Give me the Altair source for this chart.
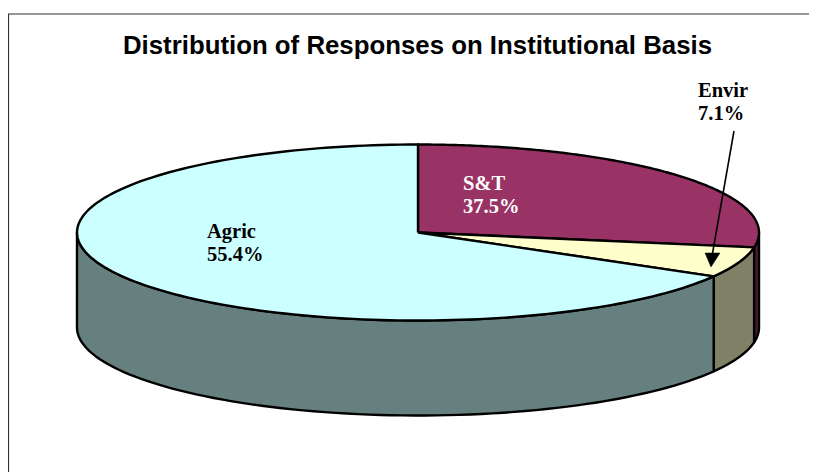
import numpy as np
import pandas as pd
import altair as alt

# Printed percentages
categories = ["S&T", "Envir", "Agric"]
printed_pct = ["37.5%", "7.1%", "55.4%"]
# Slice sweep as drawn in the picture (share of the ellipse parameter circle)
drawn_share = [27.7, 5.6, 66.7]
top_colors = ["#993366", "#FFFFCC", "#CCFFFF"]
side_colors = ["#4D1A33", "#808066", "#668080"]
label_x = [463, 698, 207]
label_y = [184, 91, 232]
label_colors = ["#FFFFFF", "#000000", "#000000"]

title_text = "Distribution of Responses on Institutional Basis"
CX, CY, RX, RY, DEPTH = 418, 232.5, 341, 88, 95

x_scale = alt.Scale(domain=[8, 809], range=[0, 801], nice=False, zero=False)
y_scale = alt.Scale(domain=[8, 472], range=[0, 464], nice=False, zero=False)
no_axis = None


def ell(t, dy=0.0):
    t = np.radians(t)
    return CX + RX * np.sin(t), CY - RY * np.cos(t) + dy


def poly(xs, ys, fill, stroke="#000000", sw=2.4):
    df = pd.DataFrame({"x": xs, "y": ys, "i": range(len(xs))})
    return alt.Chart(df).mark_line(
        fill=fill, stroke=stroke, strokeWidth=sw, strokeJoin="round", clip=True
    ).encode(
        x=alt.X("x:Q", scale=x_scale, axis=no_axis),
        y=alt.Y("y:Q", scale=y_scale, axis=no_axis),
        order=alt.Order("i:Q"),
    )


bounds = np.concatenate([[0], np.cumsum(drawn_share) / sum(drawn_share) * 360])
layers = []

# outer chart border
layers.append(
    alt.Chart(pd.DataFrame({"x": [8.5, 8.5, 809], "y": [472, 14, 14], "i": [0, 1, 2]}))
    .mark_line(stroke="#333333", strokeWidth=1.2)
    .encode(
        x=alt.X("x:Q", scale=x_scale, axis=no_axis),
        y=alt.Y("y:Q", scale=y_scale, axis=no_axis),
        order=alt.Order("i:Q"),
    )
)

# side walls (only the front half of the ellipse is visible)
for k in range(3):
    a, b = max(bounds[k], 90), min(bounds[k + 1], 270)
    if b <= a:
        continue
    t = np.linspace(a, b, 80)
    x1, y1 = ell(t)
    x2, y2 = ell(t[::-1], DEPTH)
    xs = np.r_[x1, x2, x1[0]]
    ys = np.r_[y1, y2, y1[0]]
    layers.append(poly(xs, ys, side_colors[k]))

# top slices
for k in range(3):
    t = np.linspace(bounds[k], bounds[k + 1], 160)
    x1, y1 = ell(t)
    xs = np.r_[CX, x1, CX]
    ys = np.r_[CY, y1, CY]
    layers.append(poly(xs, ys, top_colors[k]))

# leader arrow for Envir
layers.append(poly([734, 711], [131, 262], "none", sw=1.6))
layers.append(poly([705, 720, 711, 705], [253, 253, 267, 253], "#000000", sw=0.5))

# labels
rows = []
for k in range(3):
    rows.append(dict(x=label_x[k], y=label_y[k], t=categories[k], c=label_colors[k]))
    rows.append(dict(x=label_x[k], y=label_y[k] + 23, t=printed_pct[k], c=label_colors[k]))
layers.append(
    alt.Chart(pd.DataFrame(rows))
    .mark_text(font="Liberation Serif", fontWeight="bold", fontSize=20.5, align="left", baseline="middle")
    .encode(
        x=alt.X("x:Q", scale=x_scale, axis=no_axis),
        y=alt.Y("y:Q", scale=y_scale, axis=no_axis),
        text="t:N",
        color=alt.Color("c:N", scale=None),
    )
)

# title
layers.append(
    alt.Chart(pd.DataFrame({"x": [417.5], "y": [46], "t": [title_text]}))
    .mark_text(font="Liberation Sans", fontWeight="bold", fontSize=25.8, align="center", baseline="middle", color="#000000")
    .encode(
        x=alt.X("x:Q", scale=x_scale, axis=no_axis),
        y=alt.Y("y:Q", scale=y_scale, axis=no_axis),
        text="t:N",
    )
)

chart = (
    alt.layer(*layers)
    .properties(width=801, height=464, padding=0, autosize=alt.AutoSizeParams(type="none"))
    .configure_view(stroke=None)
)
chart.save("out.html", embed_options={"renderer": "svg", "actions": False})
